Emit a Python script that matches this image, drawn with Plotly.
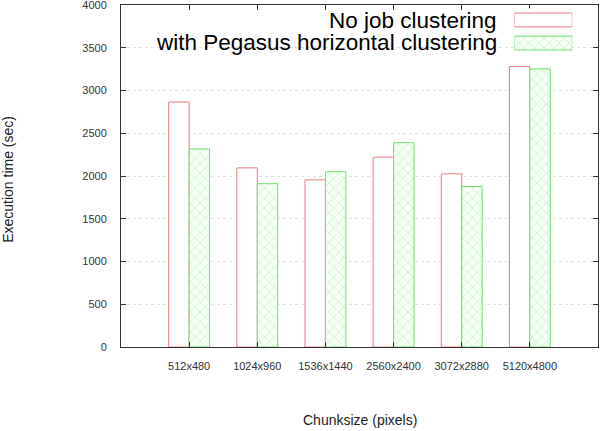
import plotly.graph_objects as go

chunk_sizes = ['512x480', '1024x960', '1536x1440', '2560x2400', '3072x2880', '5120x4800']
no_clustering = [2865, 2095, 1955, 2220, 2025, 3280]
horizontal_clustering = [2317, 1910, 2050, 2390, 1877, 3253]
y_ticks = [0, 500, 1000, 1500, 2000, 2500, 3000, 3500, 4000]
series_names = ['No job clustering', 'with Pegasus horizontal clustering']

red = 'rgb(236,120,130)'
green = 'rgb(110,225,110)'
font = 'Liberation Sans, Arial, sans-serif'
hatch = dict(shape='x', fgcolor='rgb(135,228,135)', bgcolor='rgb(245,255,245)',
             size=7, solidity=0.18)

fig = go.Figure()

fig.add_trace(go.Bar(
    x=chunk_sizes, y=no_clustering, name=series_names[0],
    marker=dict(color='white', line=dict(color=red, width=1))))
fig.add_trace(go.Bar(
    x=chunk_sizes, y=horizontal_clustering, name=series_names[1],
    marker=dict(color='white', line=dict(color=green, width=1), pattern=hatch)))

# legend samples drawn on a small inset axis so the hatch pattern shows
fig.add_trace(go.Bar(
    y=[1], x=[1], orientation='h', xaxis='x2', yaxis='y2', hoverinfo='skip',
    marker=dict(color='white', line=dict(color=red, width=1))))
fig.add_trace(go.Bar(
    y=[0], x=[1], orientation='h', xaxis='x2', yaxis='y2', hoverinfo='skip',
    marker=dict(color='white', line=dict(color=green, width=1), pattern=hatch)))

for i, name in enumerate(series_names):
    fig.add_annotation(
        x=0.793, xref='paper', y=[0.955, 0.889][i], yref='paper',
        text=name, showarrow=False, xanchor='right', yanchor='middle',
        font=dict(family=font, size=22.5, color='black'))

# axis titles
fig.add_annotation(x=0.5, xref='paper', y=-0.213, yref='paper', yanchor='middle',
                   text='Chunksize (pixels)', showarrow=False,
                   font=dict(family=font, size=14, color='#222'))
fig.add_annotation(x=-0.236, xref='paper', y=0.49, yref='paper', xanchor='center',
                   text='Execution time (sec)', showarrow=False, textangle=-90,
                   font=dict(family=font, size=14, color='#222'))

axis_common = dict(showline=True, linecolor='#333', linewidth=1, mirror='ticks',
                   ticks='inside', ticklen=5, tickcolor='#333', automargin=False,
                   ticklabeloverflow='allow',
                   tickfont=dict(family=font, size=11, color='#333'))

fig.update_layout(
    width=600, height=431,
    paper_bgcolor='white', plot_bgcolor='white',
    margin=dict(l=121, r=2, t=5, b=84),
    barmode='group', bargap=0.4, bargroupgap=0,
    xaxis=dict(range=[-1, 6], ticklabelstandoff=9, **axis_common),
    yaxis=dict(range=[0, 4000], tickvals=y_ticks, showgrid=True,
               gridcolor='rgb(225,225,225)', griddash='dot', gridwidth=1,
               ticklabelstandoff=11, **axis_common),
    xaxis2=dict(domain=[0.825, 0.946], anchor='y2', range=[0, 1], visible=False, fixedrange=True),
    yaxis2=dict(domain=[0.855, 0.99], anchor='x2', range=[-0.5, 1.5], visible=False, fixedrange=True),
    showlegend=False,
)

# drop the page's default body margin so the figure sits at the window corner
fig.write_html('out.html', config={'displayModeBar': False},
               post_script="document.body.style.margin='0';")
